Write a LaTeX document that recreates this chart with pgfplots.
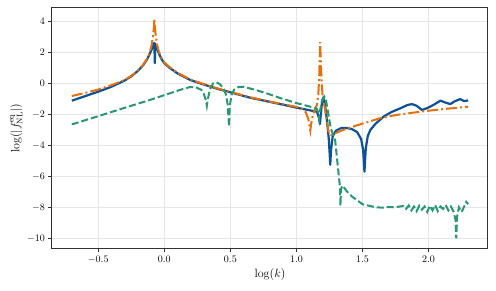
\documentclass[border=0pt]{standalone}
\usepackage{pgfplots}
\pgfplotsset{compat=1.18}
\definecolor{cblue}{RGB}{12,82,152}
\definecolor{corange}{RGB}{232,112,12}
\definecolor{cgreen}{RGB}{40,152,112}
\definecolor{gridgray}{RGB}{230,230,230}
\definecolor{spine}{RGB}{50,50,50}
\begin{document}
\begin{tikzpicture}
\begin{axis}[
  scale only axis, width=436pt, height=241pt,
  xmin=-0.85, xmax=2.45, ymin=-10.69, ymax=4.86,
  xtick={-0.5,0,0.5,1,1.5,2}, ytick={-10,-8,-6,-4,-2,0,2,4},
  xticklabel style={/pgf/number format/.cd,fixed,fixed zerofill,precision=1},
  grid=major, major grid style={gridgray, line width=0.8pt},
  axis line style={spine, line width=1pt},
  tick style={spine, line width=0.7pt},
  tick align=outside, xtick pos=bottom, ytick pos=left,
  major tick length=3.5pt,
  xlabel={\large $\log(k)$}, ylabel={\large $\log(|f^{\mathrm{eq}}_{\mathrm{NL}}|)$},
  xlabel style={yshift=2pt}, ylabel style={yshift=-2pt},
]
\addplot[cblue, line width=2.2pt, line join=round] coordinates {
(-0.70,-1.12) (-0.60,-0.83) (-0.50,-0.54) (-0.40,-0.22) (-0.30,0.18) (-0.25,0.45)
(-0.20,0.80) (-0.16,1.17) (-0.13,1.55) (-0.11,1.90) (-0.09,2.30) (-0.08,2.55)
(-0.075,2.60) (-0.072,1.30) (-0.068,2.55) (-0.06,2.35) (-0.04,1.90) (-0.02,1.55)
(0.00,1.30) (0.04,1.00) (0.10,0.64) (0.20,0.20) (0.30,-0.08) (0.40,-0.35)
(0.50,-0.58) (0.65,-0.93) (0.80,-1.20) (0.90,-1.38) (1.00,-1.57) (1.10,-1.74)
(1.155,-1.83) (1.17,-2.2) (1.178,-2.62) (1.185,-2.0) (1.195,-1.1) (1.205,-0.9)
(1.215,-1.3) (1.23,-2.3) (1.245,-3.6) (1.252,-4.6) (1.256,-5.25) (1.262,-4.3)
(1.275,-3.4) (1.30,-3.05) (1.34,-2.88) (1.38,-2.88) (1.42,-2.95) (1.46,-3.15)
(1.49,-3.6) (1.505,-4.3) (1.515,-5.7) (1.525,-4.2) (1.54,-3.4) (1.56,-3.0)
(1.60,-2.6) (1.66,-2.15) (1.72,-1.85) (1.79,-1.6) (1.84,-1.4) (1.875,-1.34)
(1.91,-1.45) (1.95,-1.72) (1.99,-1.6) (2.04,-1.38) (2.09,-1.12) (2.13,-1.25)
(2.165,-1.34) (2.20,-1.15) (2.24,-1.02) (2.27,-1.15) (2.30,-1.10)
};
\addplot[corange, line width=2pt, dash pattern=on 11pt off 3pt on 2pt off 3pt] coordinates {
(-0.70,-0.82) (-0.60,-0.62) (-0.50,-0.40) (-0.40,-0.12) (-0.30,0.22) (-0.25,0.48)
(-0.20,0.82) (-0.16,1.20) (-0.13,1.60) (-0.11,2.00) (-0.095,2.50) (-0.085,3.10)
(-0.078,3.70) (-0.075,4.15) (-0.072,3.70) (-0.065,3.10) (-0.055,2.50) (-0.04,2.00)
(-0.02,1.62) (0.00,1.35) (0.04,1.05) (0.10,0.68) (0.20,0.24) (0.30,-0.05)
(0.40,-0.32) (0.50,-0.55) (0.65,-0.90) (0.80,-1.18) (0.90,-1.35) (1.00,-1.52)
(1.04,-1.65) (1.07,-1.85) (1.09,-2.3) (1.10,-2.8) (1.105,-3.05) (1.112,-2.6)
(1.125,-2.0) (1.14,-1.72) (1.155,-1.4) (1.165,-0.8) (1.172,0.3) (1.177,1.8)
(1.18,2.65) (1.184,1.5) (1.19,0.2) (1.198,-0.8) (1.205,-1.1) (1.215,-1.6)
(1.23,-2.4) (1.245,-3.2) (1.26,-3.35) (1.30,-3.2) (1.35,-3.02) (1.40,-2.87)
(1.50,-2.6) (1.63,-2.26) (1.75,-2.05) (1.85,-1.93) (1.94,-1.83) (2.05,-1.72)
(2.15,-1.63) (2.30,-1.51)
};
\addplot[cgreen, line width=2pt, dash pattern=on 7pt off 3pt] coordinates {
(-0.70,-2.65) (-0.50,-2.12) (-0.30,-1.58) (-0.10,-1.05) (0.05,-0.62) (0.12,-0.42)
(0.195,-0.24) (0.24,-0.26) (0.28,-0.42) (0.30,-0.7) (0.315,-1.1) (0.322,-1.45)
(0.33,-1.0) (0.345,-0.4) (0.37,0.0) (0.395,0.06) (0.42,-0.05) (0.45,-0.35)
(0.47,-0.8) (0.48,-1.4) (0.49,-2.8) (0.495,-1.5) (0.51,-0.7) (0.53,-0.4)
(0.56,-0.25) (0.60,-0.22) (0.70,-0.45) (0.80,-0.72) (0.877,-0.95) (0.99,-1.25)
(1.10,-1.5) (1.155,-1.65) (1.165,-1.9) (1.172,-2.3) (1.18,-1.7) (1.195,-1.1)
(1.212,-0.86) (1.222,-1.0) (1.24,-1.9) (1.26,-2.9) (1.293,-3.66) (1.315,-5.5)
(1.33,-6.7) (1.333,-7.9) (1.338,-6.8) (1.35,-6.6) (1.38,-6.95) (1.42,-7.3)
(1.46,-7.55) (1.50,-7.8) (1.55,-7.9) (1.60,-8.0) (1.65,-8.02) (1.70,-7.98)
(1.74,-8.0) (1.78,-7.95) (1.81,-7.92) (1.83,-8.1) (1.85,-7.88) (1.87,-8.2)
(1.89,-7.95) (1.91,-8.25) (1.93,-7.9) (1.95,-8.15) (1.97,-7.95) (1.99,-8.3)
(2.01,-7.9) (2.03,-8.2) (2.05,-7.85) (2.07,-8.25) (2.09,-7.95) (2.11,-8.1)
(2.13,-7.85) (2.15,-8.2) (2.17,-7.95) (2.19,-8.3) (2.204,-8.8) (2.21,-10.0)
(2.216,-8.6) (2.23,-8.0) (2.25,-8.3) (2.27,-7.95) (2.285,-7.65) (2.30,-7.8)
};
\end{axis}
\draw[draw=none] (current axis.south west) ++(-52pt,-42pt) rectangle ++(496pt,291pt);
\end{tikzpicture}
\end{document}
